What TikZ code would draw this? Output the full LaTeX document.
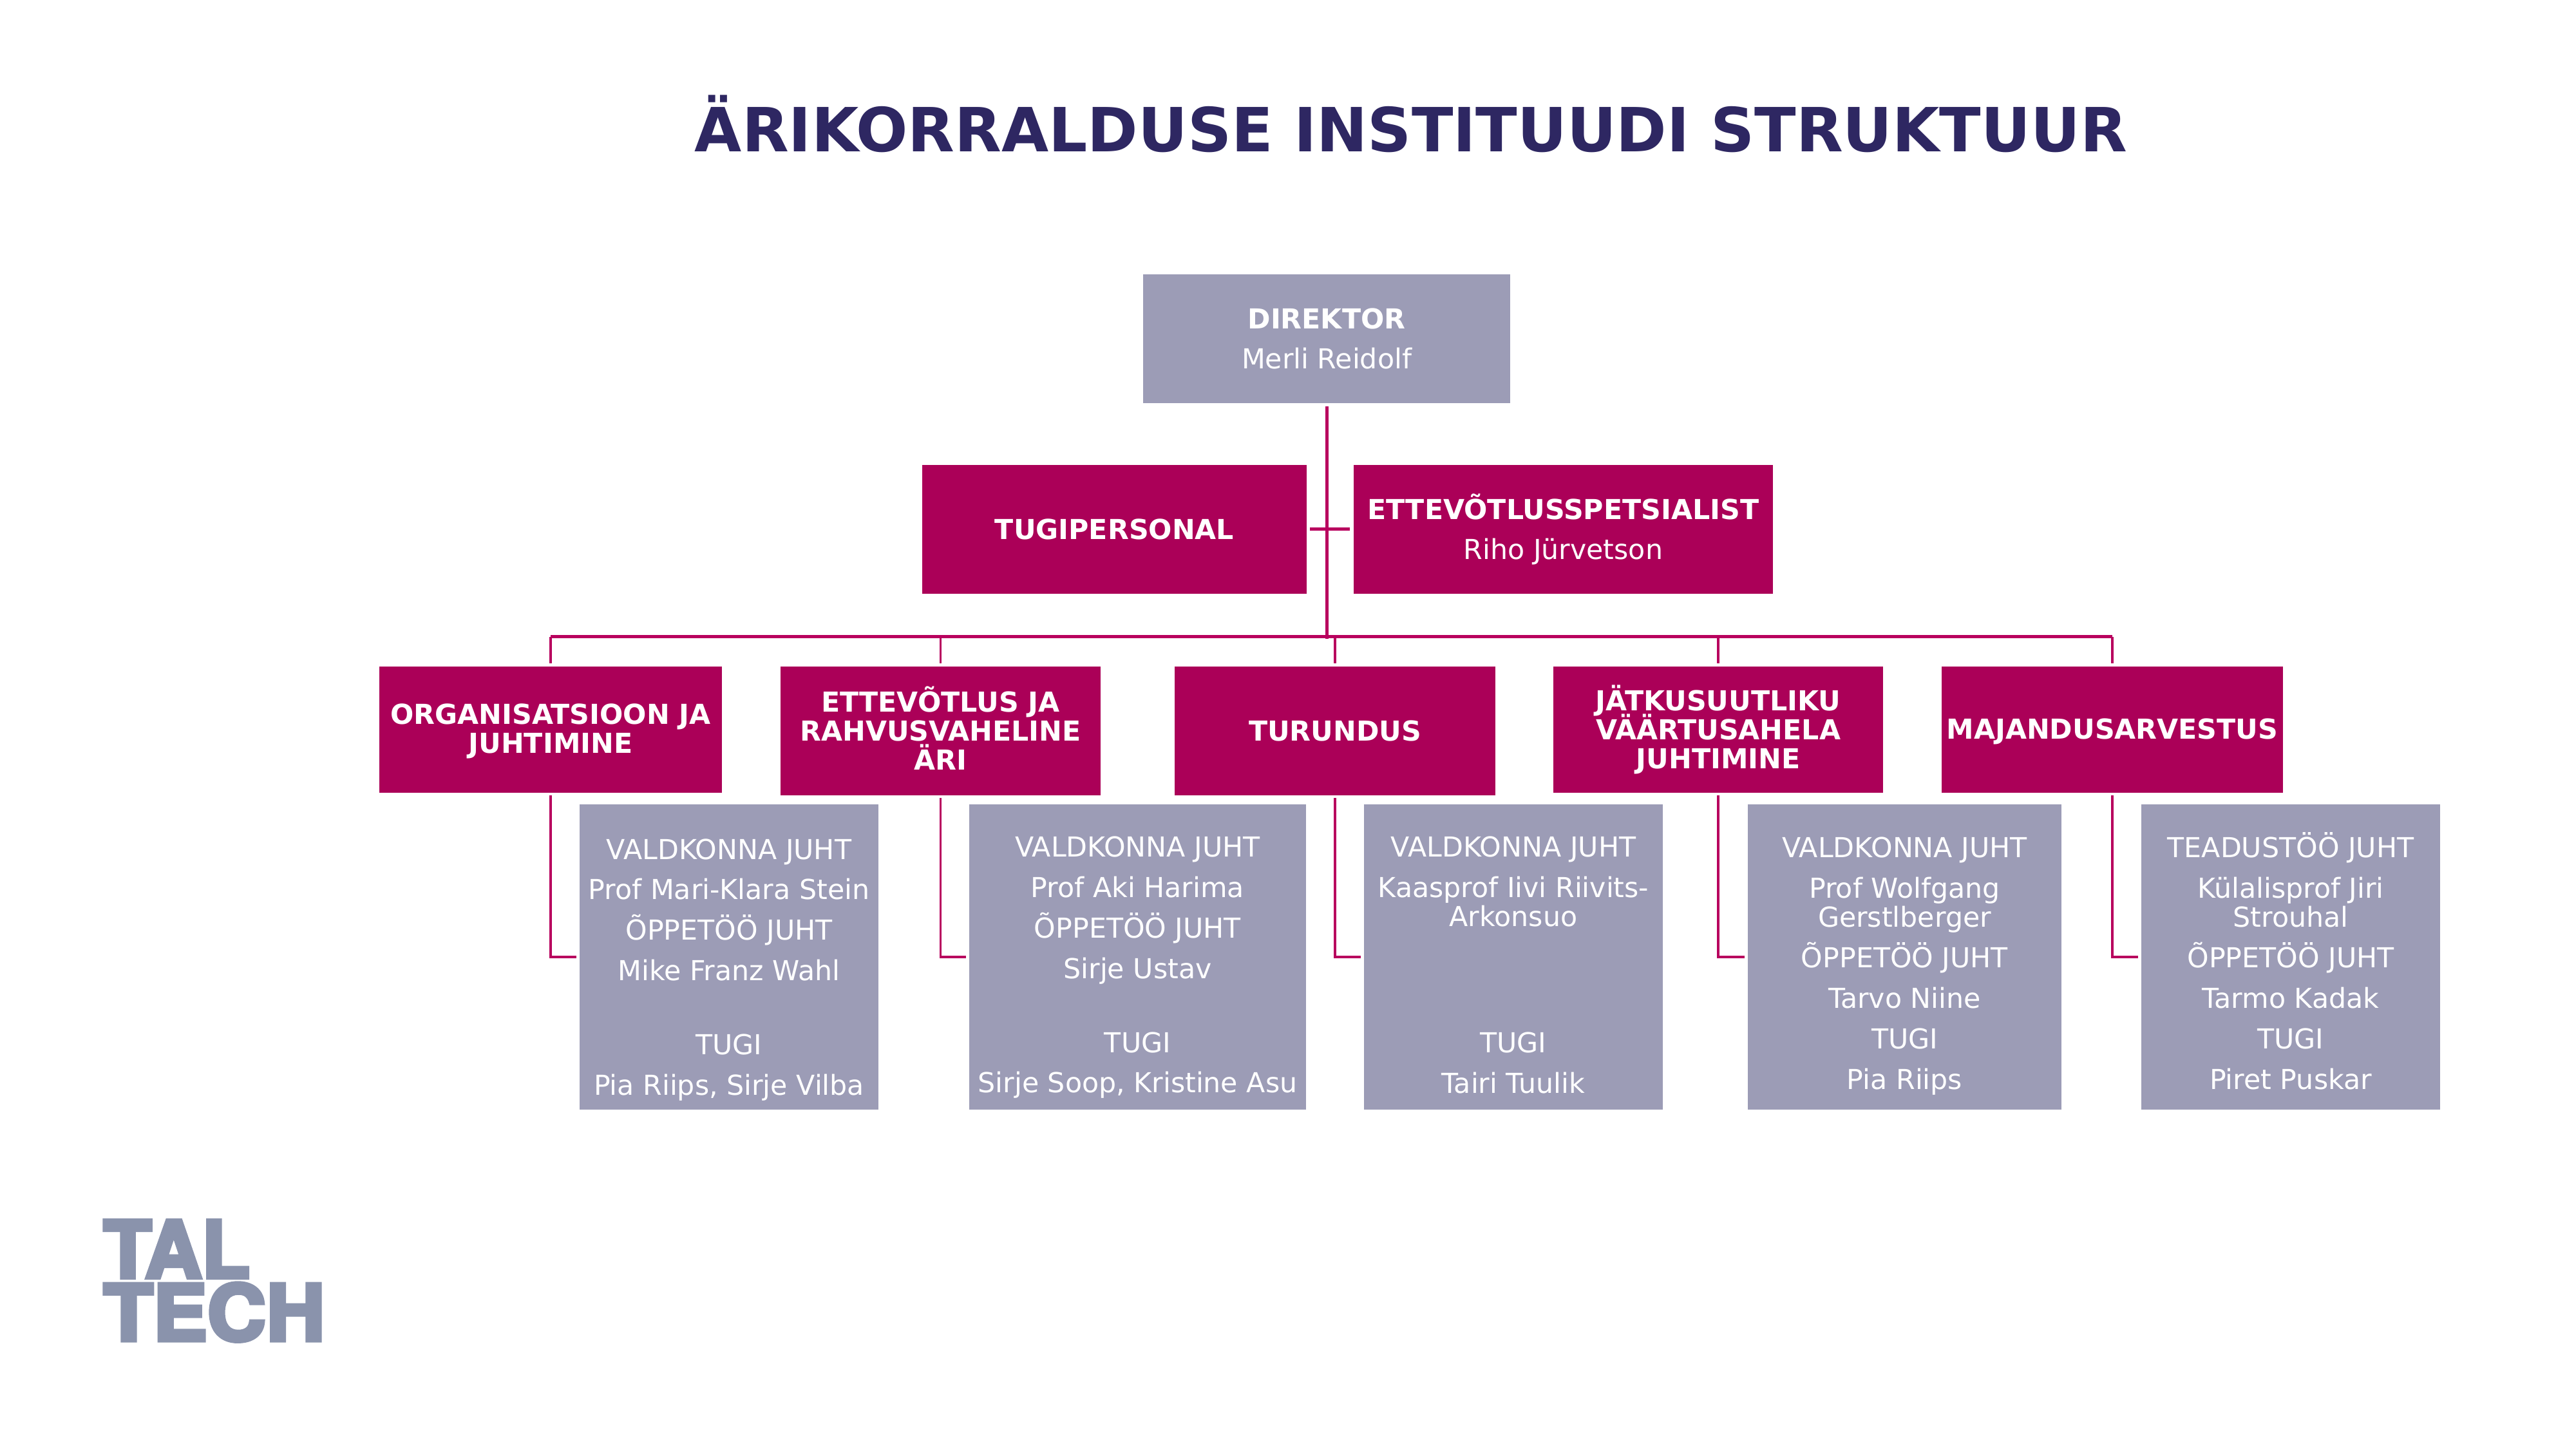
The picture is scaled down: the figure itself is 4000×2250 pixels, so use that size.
\documentclass[tikz,border=0pt]{standalone}
\usepackage{fontspec}
\setmainfont{DejaVu Sans}
\newfontfamily\logofont[FakeBold=5]{TeX Gyre Heros Bold}
\usepackage{graphicx}
\normallineskiplimit=-20pt
\lineskiplimit=-20pt
\definecolor{mag}{HTML}{AB0058}
\definecolor{linec}{HTML}{B8005E}
\definecolor{lilac}{HTML}{9C9CB6}
\definecolor{navy}{HTML}{2E2762}
\definecolor{logoc}{HTML}{8A93AC}
\newcommand\lowt[2]{\rule{0pt}{#1}#2\rule[-3pt]{0pt}{1pt}}
\tikzset{
 wh/.style 2 args={minimum width=#1*0.24pt, minimum height=#2*0.24pt},
 boxbase/.style={inner sep=0pt, outer sep=0pt, align=center, text=white,
   font=\fontsize{10.25}{10.85}\selectfont},
 magbox/.style={boxbase, fill=mag},
 greybox/.style={boxbase, fill=lilac},
 mainline/.style={draw=linec, line width=1.2pt},
 stem/.style={draw=linec, line width=0.85pt},
}
\begin{document}
\begin{tikzpicture}[x=0.24pt,y=-0.24pt]
\useasboundingbox (0,0) rectangle (4000,2250);
\node[text=navy,inner sep=0pt,font=\fontsize{22.7}{26}\selectfont\bfseries] (title) at (2191,192) {ÄRIKORRALDUSE INSTITUUDI STRUKTUUR};

\node[greybox,wh={570}{200}] (dir) at (2060,526) {\textbf{DIREKTOR}\\[4.25pt]Merli Reidolf};
\node[magbox,wh={597}{200}] (tugi) at (1730.5,822) {\textbf{TUGIPERSONAL}};
\node[magbox,wh={651}{200}] (spec) at (2427.5,822) {\textbf{ETTEVÕTLUSSPETSIALIST}\\[4.25pt]Riho Jürvetson};

\node[magbox,wh={532}{196}] (org) at (855,1133) {\rule{0pt}{8.8pt}\textbf{ORGANISATSIOON JA}\\\textbf{JUHTIMINE}};
\node[magbox,wh={497}{200}] (ett) at (1460.5,1135) {\textbf{ETTEVÕTLUS JA}\\\textbf{RAHVUSVAHELINE}\\\textbf{ÄRI}\rule[-2pt]{0pt}{1pt}};
\node[magbox,wh={498}{200}] (tur) at (2073,1135) {\textbf{TURUNDUS}};
\node[magbox,wh={512}{196}] (jat) at (2668,1133) {\textbf{JÄTKUSUUTLIKU}\\\textbf{VÄÄRTUSAHELA}\\\textbf{JUHTIMINE}};
\node[magbox,wh={530}{196}] (maj) at (3280,1133) {\rule{0pt}{8.8pt}\textbf{MAJANDUSARVESTUS}};

\node[greybox,wh={464}{474}] (l1) at (1132,1486) {\lowt{17.9pt}{VALDKONNA JUHT}\\[4.25pt]Prof Mari-Klara Stein\\[4.25pt]ÕPPETÖÖ JUHT\\[4.25pt]Mike Franz Wahl\\[16.6pt]TUGI\\[4.25pt]\lowt{0pt}{Pia Riips, Sirje Vilba}};
\node[greybox,wh={523}{474}] (l2) at (1766.5,1486) {\lowt{16.4pt}{VALDKONNA JUHT}\\[4.25pt]Prof Aki Harima\\[4.25pt]ÕPPETÖÖ JUHT\\[4.25pt]Sirje Ustav\\[16.6pt]TUGI\\[4.25pt]\lowt{0pt}{Sirje Soop, Kristine Asu}};
\node[greybox,wh={464}{474}] (l3) at (2350,1486) {\lowt{16.4pt}{VALDKONNA JUHT}\\[4.25pt]Kaasprof Iivi Riivits-\\Arkonsuo\\[36pt]TUGI\\[4.25pt]\lowt{0pt}{Tairi Tuulik}};
\node[greybox,wh={487}{474}] (l4) at (2957.5,1486) {\lowt{15.2pt}{VALDKONNA JUHT}\\[4.25pt]Prof Wolfgang\\Gerstlberger\\[4.25pt]ÕPPETÖÖ JUHT\\[4.25pt]Tarvo Niine\\[4.25pt]TUGI\\[4.25pt]\lowt{0pt}{Pia Riips}};
\node[greybox,wh={464}{474}] (l5) at (3557,1486) {\lowt{15.2pt}{TEADUSTÖÖ JUHT}\\[4.25pt]Külalisprof Jiri\\Strouhal\\[4.25pt]ÕPPETÖÖ JUHT\\[4.25pt]Tarmo Kadak\\[4.25pt]TUGI\\[4.25pt]\lowt{0pt}{Piret Puskar}};

% connectors
\coordinate (bus) at (dir.south |- 0,989);
\coordinate (busend) at (dir.south |- 0,992);
\draw[mainline,shorten <=5*0.24pt] (dir.south) -- (busend);
\draw[mainline,shorten <=5*0.24pt,shorten >=6*0.24pt] (tugi.east) -- (spec.west);
\draw[mainline] (bus -| org.north) -- (bus -| maj.north);
\foreach \n in {org,ett,tur,jat,maj}{
  \draw[stem,shorten >=5*0.24pt] (bus -| \n.north) -- (\n.north);
}
\foreach \a/\b in {org/l1,ett/l2,tur/l3,jat/l4,maj/l5}{
  \draw[stem,shorten <=4*0.24pt,shorten >=5*0.24pt] (\a.south) |- (\b.west);
}

% logo
\node[inner sep=0pt,anchor=north west,text=logoc,align=left,font=\fontsize{10}{23.4}\selectfont] (logo) at (160,1894) {\resizebox{54.5pt}{21.4pt}{\logofont TAL}\\\resizebox{82.5pt}{21.4pt}{\logofont TECH}};
\end{tikzpicture}
\end{document}
